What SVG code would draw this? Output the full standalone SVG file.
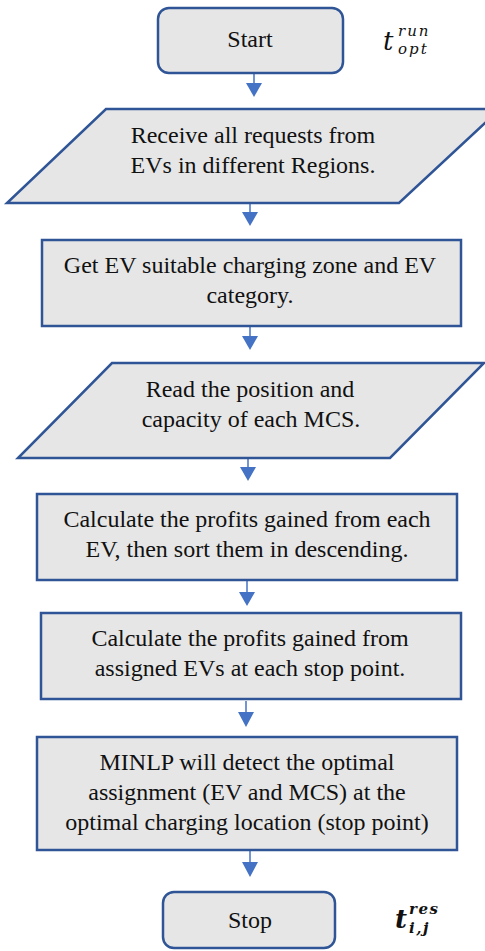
<svg xmlns="http://www.w3.org/2000/svg" width="485" height="951" viewBox="0 0 485 951">
<style>
.box{fill:#e6e6e6;stroke:#2f5597;stroke-width:2.5}
.c{stroke:#4472c4;stroke-width:1.5;fill:none}
.h{fill:#4472c4}
.t{font-family:'Liberation Serif','Times New Roman',serif;font-size:24px;fill:#111;text-anchor:middle}
</style>
<rect width="485" height="951" fill="#fff"/>
<g id="connectors">
<path class="c" d="M254,73 V83"/><path class="h" d="M246,83 H262 L254,97 Z"/>
<path class="c" d="M250,203 V212"/><path class="h" d="M242,212 H258 L250,226 Z"/>
<path class="c" d="M250,326 V336"/><path class="h" d="M242,336 H258 L250,350 Z"/>
<path class="c" d="M248,458 V467"/><path class="h" d="M240,467 H256 L248,481 Z"/>
<path class="c" d="M247,580 V592"/><path class="h" d="M239,592 H255 L247,606 Z"/>
<path class="c" d="M246,701 V712"/><path class="h" d="M238,712 H254 L246,727 Z"/>
<path class="c" d="M250,850 V862"/><path class="h" d="M242,862 H258 L250,877 Z"/>
</g>
<g class="t">
<g id="start">
<rect class="box" x="158" y="8" width="185" height="65" rx="11"/>
<text x="250" y="47">Start</text>
</g>
<g id="receive">
<polygon class="box" points="106,109 500,109 399,203 7,203"/>
<text x="253" y="143">Receive all requests from</text>
<text x="253" y="173">EVs in different Regions.</text>
</g>
<g id="zone">
<rect class="box" x="42" y="240" width="419" height="86"/>
<text x="250" y="273">Get EV suitable charging zone and EV</text>
<text x="250" y="303">category.</text>
</g>
<g id="read">
<polygon class="box" points="112,363 484,363 390,458 18,458"/>
<text x="250" y="397">Read the position and</text>
<text x="251" y="427">capacity of each MCS.</text>
</g>
<g id="profits-ev">
<rect class="box" x="37" y="494" width="420" height="86"/>
<text x="247" y="527">Calculate the profits gained from each</text>
<text x="247" y="557">EV, then sort them in descending.</text>
</g>
<g id="profits-stop">
<rect class="box" x="41" y="613" width="420" height="86"/>
<text x="250" y="646">Calculate the profits gained from</text>
<text x="250" y="676">assigned EVs at each stop point.</text>
</g>
<g id="minlp">
<rect class="box" x="37" y="737" width="420" height="113"/>
<text x="247" y="770">MINLP will detect the optimal</text>
<text x="247" y="800">assignment (EV and MCS) at the</text>
<text x="247" y="830">optimal charging location (stop point)</text>
</g>
<g id="stop">
<rect class="box" x="163" y="892" width="172" height="56" rx="11"/>
<text x="250" y="928">Stop</text>
</g>
</g>
<g font-family="DejaVu Serif, serif" font-style="italic" fill="#111">
<g id="t-opt-run">
<text x="383" y="50" font-size="26">t</text>
<text x="398" y="36" font-size="15" letter-spacing="2">run</text>
<text x="398" y="54" font-size="15" letter-spacing="2">opt</text>
</g>
<g id="t-ij-res" font-weight="bold">
<text x="395" y="928" font-size="26">t</text>
<text x="409" y="914" font-size="15" letter-spacing="1.5">res</text>
<text x="409" y="933" font-size="15" letter-spacing="1.5">i,j</text>
</g>
</g>
</svg>
